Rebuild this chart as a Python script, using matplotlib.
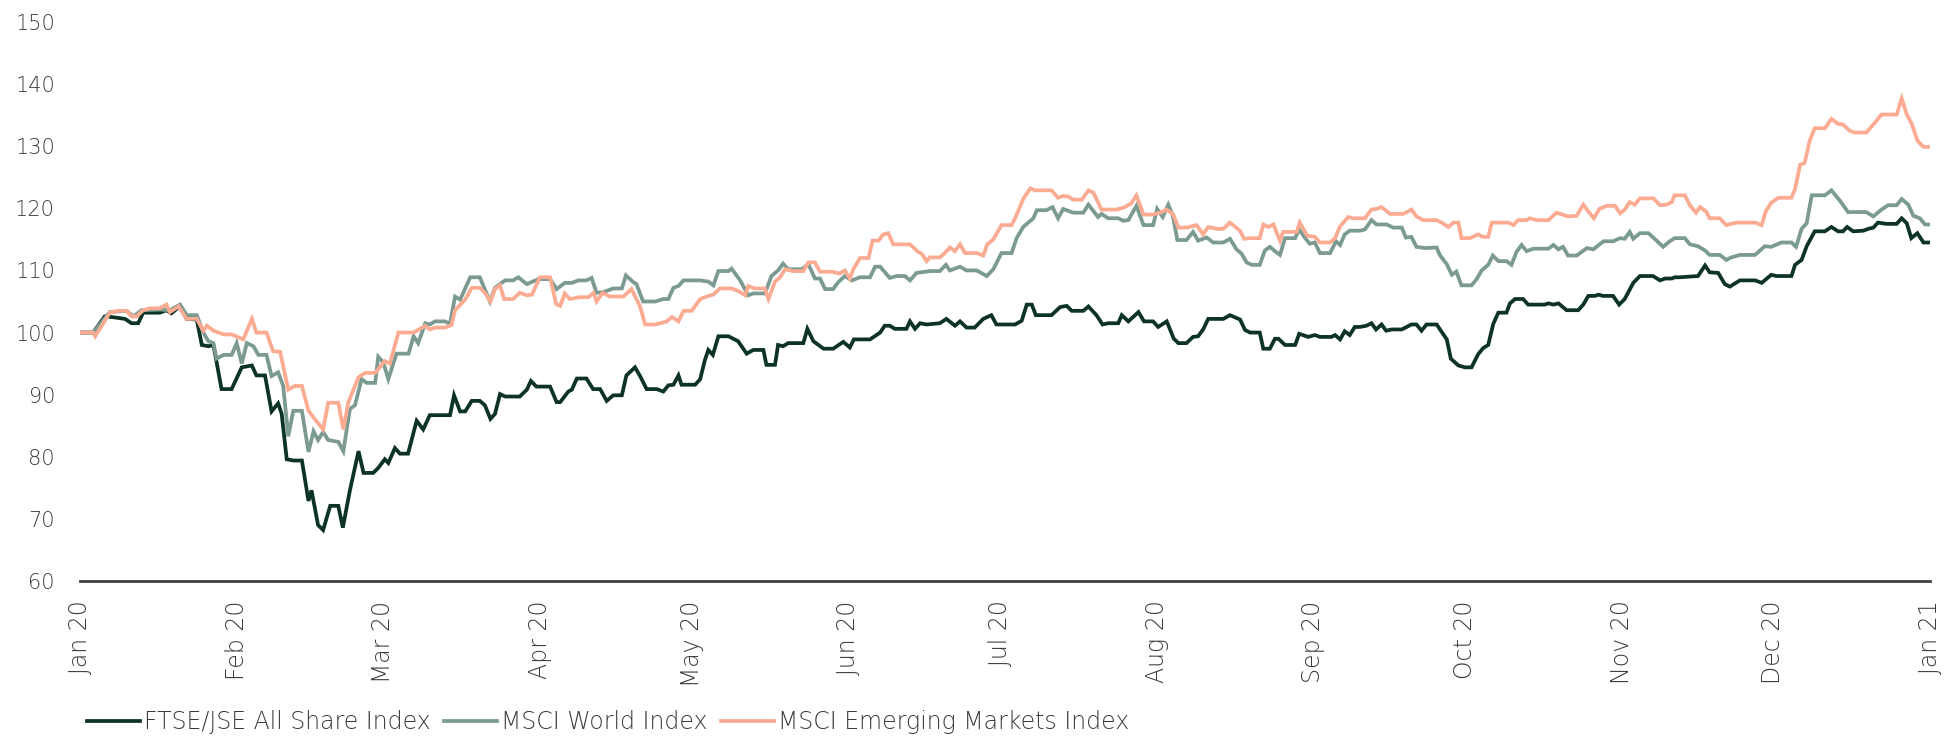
import numpy as np
import pandas as pd
import matplotlib
matplotlib.use("Agg")
import matplotlib.pyplot as plt
import matplotlib.dates as mdates

# index levels (base 100), as (day of 2020, value)
start = pd.Timestamp("2020-01-01")

ftse = [(0.0,100.0),(2.6,100.0),(4.9,102.6),(6.3,102.5),(8.9,102.2),(10.2,101.5),(11.5,101.5),(12.5,103.2),(15.8,103.2),(17.1,103.6),
	(18.1,103.1),(19.8,104.3),(21.1,102.2),(23.1,102.1),(24.1,98.0),(25.4,97.8),(26.4,98.0),(28.0,90.9),(30.0,90.9),
	(32.0,94.4),(34.0,94.7),(34.9,93.1),(36.6,93.1),(37.9,87.3),(39.2,88.6),(39.9,86.9),(40.9,79.6),(42.2,79.4),(43.9,79.4),
	(45.2,72.9),(45.8,74.6),(47.1,69.0),(48.1,68.2),(49.5,72.1),(51.1,72.1),(52.0,68.6),(53.4,74.6),(55.1,80.9),(56.1,77.4),
	(58.0,77.4),(59.0,78.2),(60.3,79.6),(61.0,79.0),(62.3,81.4),(63.3,80.5),(64.9,80.5),(66.6,85.8),(67.9,84.4),(69.2,86.7),
	(73.2,86.7),(74.0,89.9),(75.2,87.3),(76.2,87.3),(77.5,89.0),(79.1,89.0),(80.1,88.3),(81.2,86.1),(82.1,86.9),(83.1,90.1),
	(84.1,89.7),(87.0,89.7),(88.4,90.8),(89.2,92.2),(90.3,91.3),(93.0,91.3),(94.3,88.8),(95.0,88.8),(96.6,90.5),(97.3,90.8),
	(98.3,92.6),(100.2,92.6),(101.5,90.9),(102.9,90.9),(104.2,89.0),(105.5,89.9),(107.2,89.9),(108.1,93.1),(109.8,94.4),
	(110.8,93.0),(112.1,90.9),(114.1,90.9),(115.4,90.5),(116.4,91.5),(117.4,91.6),(118.4,93.1),(119.0,91.6),(121.7,91.6),
	(122.7,92.5),(123.6,95.5),(124.3,97.2),(125.2,96.4),(126.3,99.4),(128.3,99.4),(130.2,98.6),(131.9,96.6),(133.2,97.2),
	(135.2,97.2),(135.8,94.8),(137.5,94.8),(138.1,98.0),(139.1,97.8),(140.1,98.3),(143.1,98.3),(143.9,100.6),(145.1,98.6),
	(147.1,97.4),(149.0,97.4),(151.0,98.5),(152.3,97.6),(153.1,98.9),(156.3,98.9),(158.3,100.0),(159.2,101.1),(160.2,101.1),
	(161.2,100.6),(163.5,100.6),(164.2,101.8),(165.2,100.6),(166.2,101.5),(167.5,101.3),(170.1,101.5),(171.4,102.2),
	(173.1,101.1),(174.1,101.8),(175.4,100.8),(177.0,100.8),(178.7,102.2),(180.3,102.8),(181.3,101.3),(185.0,101.3),
	(186.3,101.9),(187.3,104.5),(188.3,104.5),(189.1,102.8),(192.2,102.8),(193.9,104.1),(195.2,104.3),(196.2,103.5),
	(198.5,103.5),(199.5,104.2),(201.1,102.8),(202.3,101.3),(203.4,101.5),(205.4,101.5),(206.1,102.8),(207.4,101.8),
	(209.4,103.3),(210.5,101.8),(212.3,101.8),(213.3,100.9),(215.0,101.8),(216.4,99.0),(217.3,98.3),(218.9,98.3),
	(220.2,99.3),(221.2,99.4),(222.2,100.5),(223.2,102.2),(226.2,102.2),(227.5,102.8),(229.5,102.1),(230.5,100.4),
	(231.5,100.0),(233.4,100.0),(234.1,97.4),(235.4,97.4),(236.4,99.0),(237.1,99.0),(238.4,98.0),(240.4,98.0),(241.2,99.8),
	(243.0,99.3),(244.3,99.6),(245.3,99.3),(247.6,99.3),(248.3,99.6),(249.3,98.9),(250.2,100.2),(251.2,99.6),(252.2,100.9),
	(253.2,100.9),(254.5,101.1),(255.5,101.5),(256.4,100.5),(257.5,101.3),(258.4,100.3),(259.5,100.5),(261.5,100.5),
	(263.4,101.3),(264.4,101.3),(265.4,100.3),(266.4,101.3),(268.4,101.3),(270.4,98.9),(271.2,95.8),(272.7,94.7),
	(274.0,94.4),(275.3,94.4),(276.6,96.5),(277.6,97.5),(278.6,98.0),(279.6,101.4),(280.6,103.2),(282.2,103.2),(282.9,104.7),
	(283.9,105.4),(285.5,105.4),(286.5,104.5),(289.8,104.5),(290.5,104.7),(291.5,104.5),(292.5,104.7),(294.1,103.6),
	(296.4,103.6),(297.4,104.5),(298.4,105.9),(299.7,105.9),(300.4,106.1),(301.3,105.9),(303.3,105.9),(304.5,104.5),
	(305.6,105.4),(307.3,108.0),(308.6,109.1),(311.2,109.1),(312.6,108.4),(313.6,108.7),(314.9,108.7),(315.5,108.9),
	(316.5,108.9),(320.1,109.1),(321.5,110.8),(322.4,109.7),(324.1,109.6),(325.4,107.8),(326.4,107.4),(328.4,108.4),
	(331.4,108.4),(332.7,108.0),(334.6,109.3),(335.6,109.1),(338.6,109.1),(339.3,110.9),(340.6,111.7),(341.6,113.9),
	(343.2,116.3),(345.2,116.3),(346.5,117.0),(347.8,116.3),(348.8,116.3),(349.6,117.0),(350.8,116.3),(352.8,116.4),
	(353.8,116.7),(354.8,116.9),(355.7,117.7),(357.4,117.5),(359.4,117.5),(360.4,118.4),(361.4,117.6),(362.3,115.2),
	(363.5,116.0),(364.7,114.5),(366.0,114.5)]

world = [(0.0,100.0),(2.6,100.0),(5.9,103.3),(9.2,103.5),(10.6,102.6),(12.2,103.6),(15.8,103.7),(17.8,103.6),(19.8,104.5),
	(21.1,102.8),(23.1,102.8),(24.4,100.0),(25.4,98.6),(26.4,98.3),(27.0,95.8),(28.4,96.4),(30.0,96.4),(31.0,98.3),(32.0,95.0),
	(33.0,98.3),(34.3,97.8),(35.3,96.4),(36.9,96.4),(37.9,93.0),(39.2,93.6),(40.2,91.4),(41.2,83.3),(42.2,87.4),(43.9,87.4),
	(45.2,80.8),(46.2,84.1),(47.1,82.7),(48.1,84.0),(49.1,82.7),(51.1,82.4),(52.1,80.9),(53.4,87.7),(54.4,88.3),(55.7,92.5),
	(56.7,91.9),(58.4,91.9),(59.0,96.1),(60.0,95.2),(61.0,92.5),(62.6,96.6),(65.0,96.6),(66.0,99.4),(66.9,98.3),(68.3,101.5),
	(69.2,101.3),(70.2,101.8),(72.2,101.8),(73.2,101.4),(74.2,105.8),(75.2,105.3),(77.2,108.9),(79.1,108.9),(81.1,105.0),
	(82.1,107.2),(84.1,108.4),(85.7,108.4),(86.7,108.9),(88.4,107.8),(90.7,108.6),(93.0,108.6),(94.3,107.0),(95.9,108.0),
	(97.3,108.0),(98.6,108.4),(100.2,108.4),(101.2,108.8),(102.2,106.4),(103.5,106.5),(105.5,107.1),(107.2,107.1),
	(108.0,109.2),(109.5,108.1),(110.1,107.8),(111.4,105.0),(113.8,105.0),(115.4,105.4),(116.4,105.4),(117.4,107.2),
	(118.4,107.5),(119.4,108.4),(122.7,108.4),(124.3,108.2),(125.3,107.6),(126.3,109.9),(128.3,109.9),(128.9,110.3),
	(130.6,108.4),(132.2,106.0),(133.2,106.3),(135.5,106.3),(136.8,109.1),(138.1,110.0),(139.1,111.1),(140.1,110.2),
	(142.8,110.2),(144.1,111.0),(145.4,108.7),(146.4,108.7),(147.4,107.0),(149.0,107.0),(150.0,108.1),(151.3,109.1),
	(152.7,108.4),(154.3,108.9),(156.3,108.9),(157.3,110.6),(158.3,110.6),(160.2,108.8),(161.6,109.1),(163.2,109.1),
	(164.2,108.4),(165.5,109.6),(168.2,109.9),(170.1,109.9),(171.3,110.9),(172.1,110.0),(174.1,110.6),(175.4,110.0),
	(177.4,110.0),(179.4,109.1),(180.7,110.2),(182.3,112.8),(184.3,112.8),(185.3,115.2),(186.6,117.0),(188.6,118.4),
	(189.3,119.7),(191.2,119.7),(192.4,120.2),(193.5,118.4),(194.5,119.9),(196.5,119.3),(198.5,119.3),(199.5,120.6),
	(201.4,118.6),(202.1,119.1),(203.4,118.4),(205.4,118.4),(206.4,118.0),(207.4,118.1),(209.0,120.4),(210.4,117.3),
	(212.3,117.3),(213.1,119.9),(214.2,118.6),(215.3,120.6),(216.2,118.8),(217.1,114.9),(218.9,114.9),(220.2,116.2),
	(221.2,114.8),(222.9,115.3),(224.2,114.5),(226.2,114.5),(227.5,115.1),(228.8,113.4),(229.8,112.7),(230.8,111.3),
	(231.8,110.9),(233.4,110.9),(234.4,113.2),(235.4,113.8),(236.4,113.1),(237.4,112.5),(238.4,115.2),(240.4,115.2),
	(241.2,116.6),(242.3,115.3),(243.3,114.3),(244.3,114.5),(245.3,112.8),(247.3,112.8),(248.5,114.7),(249.3,114.1),
	(250.2,115.8),(251.2,116.4),(253.2,116.4),(254.2,116.6),(255.5,118.1),(256.5,117.4),(258.5,117.4),(259.8,116.9),
	(261.5,116.9),(262.3,115.3),(263.4,115.4),(264.4,113.8),(266.1,113.6),(268.4,113.7),(269.0,112.5),(270.4,111.0),
	(271.4,109.3),(272.3,109.8),(273.3,107.6),(275.3,107.6),(276.3,108.6),(277.3,110.0),(278.6,110.9),(279.5,112.4),
	(280.6,111.5),(282.2,111.5),(283.2,110.9),(284.2,113.0),(285.2,114.1),(286.2,113.1),(287.5,113.5),(290.5,113.5),
	(291.5,114.1),(292.5,113.4),(293.4,113.8),(294.4,112.4),(296.1,112.4),(298.1,113.6),(299.4,113.4),(301.4,114.7),
	(303.3,114.7),(304.7,115.2),(305.6,115.1),(306.6,116.2),(307.3,115.1),(308.6,116.0),(310.3,116.0),(311.9,114.8),
	(313.2,113.8),(314.5,114.7),(315.5,115.2),(317.5,115.2),(318.5,114.2),(320.1,113.9),(321.5,113.2),(322.4,112.5),
	(324.4,112.5),(325.7,111.7),(326.7,112.1),(328.4,112.5),(331.4,112.5),(333.3,113.9),(334.6,113.8),(336.6,114.5),
	(338.6,114.5),(339.5,113.8),(340.6,116.7),(341.6,117.6),(342.6,122.1),(345.2,122.1),(346.5,122.9),(348.2,121.2),
	(349.8,119.4),(353.4,119.4),(354.8,118.7),(356.4,119.8),(357.7,120.5),(359.4,120.5),(360.4,121.5),(361.7,120.6),
	(362.7,118.8),(364.0,118.4),(365.0,117.4),(366.0,117.4)]

em = [(0.0,100.0),(2.6,100.0),(3.0,99.4),(5.9,103.2),(7.6,103.5),(9.2,103.5),(10.2,102.6),(11.2,102.6),(12.5,103.6),
	(13.8,103.9),(15.8,103.9),(17.1,104.5),(17.8,103.3),(19.5,104.2),(21.1,102.2),(23.1,102.2),(24.4,100.3),(25.1,101.1),
	(26.4,100.3),(28.4,99.7),(30.0,99.7),(32.3,98.9),(34.0,102.2),(34.9,100.0),(36.9,100.0),(38.2,97.0),(39.6,96.9),
	(41.2,90.8),(42.5,91.4),(43.9,91.4),(45.2,87.4),(46.5,86.0),(48.1,84.4),(49.1,88.7),(51.1,88.7),(52.1,84.4),(53.1,88.8),
	(54.1,90.8),(55.1,92.8),(56.4,93.5),(58.4,93.5),(60.3,95.4),(61.3,95.0),(63.0,100.0),(66.0,100.0),(68.3,101.1),
	(69.2,100.5),(70.2,100.8),(72.2,100.8),(73.5,101.2),(74.2,103.6),(76.2,105.3),(77.5,107.2),(79.1,107.2),(80.1,106.4),
	(81.2,105.0),(82.1,107.0),(83.1,107.6),(83.9,105.4),(85.7,105.4),(87.0,106.4),(88.4,106.0),(89.4,106.1),(91.0,108.9),
	(93.0,108.9),(94.2,104.6),(95.0,104.3),(95.9,106.3),(96.9,105.4),(98.9,105.7),(100.6,105.7),(101.6,106.4),(102.2,105.0),
	(103.4,106.4),(104.8,105.8),(107.5,105.8),(109.1,107.0),(110.8,104.2),(111.8,101.3),(113.8,101.3),(116.1,101.8),
	(117.1,102.5),(118.4,101.8),(119.4,103.5),(121.0,103.5),(122.7,105.4),(124.3,105.9),(125.3,106.1),(126.6,107.1),
	(128.9,107.1),(130.2,106.7),(131.6,106.0),(132.2,107.5),(133.5,107.1),(135.5,107.1),(136.2,105.4),(137.5,108.2),
	(138.5,108.9),(139.5,110.2),(141.1,109.9),(143.1,109.9),(144.1,111.3),(145.4,111.3),(146.4,109.8),(148.7,109.8),
	(150.3,109.5),(151.3,110.0),(152.3,108.7),(153.0,110.2),(154.3,112.0),(156.0,112.0),(156.8,114.8),(158.0,114.8),
	(158.9,115.8),(159.9,116.0),(160.9,114.2),(164.2,114.2),(165.8,113.0),(166.5,112.7),(167.5,111.5),(168.1,112.1),
	(170.1,112.1),(171.1,112.8),(172.1,113.7),(173.1,113.1),(174.1,114.2),(175.1,112.8),(177.4,112.8),(178.7,112.4),
	(179.5,114.2),(180.7,115.0),(182.3,117.3),(184.3,117.3),(185.0,118.4),(186.6,121.5),(188.0,123.2),(188.9,122.9),
	(192.2,122.9),(193.5,121.7),(194.5,122.0),(195.5,121.9),(196.5,121.4),(198.2,121.4),(199.5,122.9),(200.5,122.5),
	(202.1,119.8),(205.1,119.8),(206.7,120.2),(208.0,120.8),(209.0,122.1),(210.4,119.0),(212.3,119.0),(213.7,119.3),
	(215.0,119.8),(216.3,119.0),(217.3,116.9),(218.9,116.9),(220.9,117.3),(222.2,115.8),(223.2,117.0),(224.9,116.7),
	(226.2,116.7),(227.5,117.7),(229.5,116.4),(230.3,115.1),(231.5,115.2),(233.4,115.2),(234.1,117.4),(235.1,117.0),
	(236.1,117.4),(237.4,114.8),(238.0,116.2),(240.7,116.2),(241.3,117.7),(242.8,115.6),(244.3,115.4),(245.3,114.5),
	(247.3,114.5),(248.3,115.2),(249.3,117.1),(250.9,118.6),(251.9,118.4),(254.2,118.4),(255.5,119.8),(256.5,119.9),
	(257.5,120.2),(259.2,119.1),(261.8,119.1),(263.4,119.8),(264.4,118.7),(265.7,118.1),(268.4,118.1),(269.4,117.7),
	(270.7,117.0),(271.7,117.7),(272.7,117.7),(273.3,115.2),(275.0,115.2),(276.6,115.8),(277.6,115.4),(278.6,115.4),
	(279.3,117.7),(282.6,117.7),(283.6,117.3),(284.5,118.1),(286.2,118.1),(286.8,118.4),(288.2,118.1),(290.5,118.1),
	(292.1,119.3),(294.4,118.7),(296.1,118.8),(297.4,120.6),(298.4,119.5),(299.5,118.4),(300.6,119.9),(302.0,120.4),
	(303.7,120.4),(304.7,119.2),(305.6,119.8),(306.6,121.0),(307.6,120.6),(308.6,121.6),(311.3,121.6),(312.6,120.5),
	(313.9,120.6),(314.9,121.0),(315.5,122.1),(317.5,122.1),(318.5,120.5),(319.7,119.3),(320.5,120.2),(321.7,119.5),
	(322.4,118.4),(324.4,118.4),(325.7,117.3),(327.7,117.7),(331.4,117.7),(332.7,117.3),(333.5,119.5),(334.6,120.9),
	(336.0,121.7),(338.6,121.7),(339.3,123.1),(340.3,127.0),(341.2,127.3),(342.2,130.9),(343.2,132.9),(345.2,132.9),
	(346.5,134.4),(347.8,133.6),(348.8,133.5),(350.1,132.5),(351.1,132.2),(353.4,132.2),(354.8,133.5),(356.4,135.1),
	(359.4,135.1),(360.4,137.7),(361.4,135.1),(362.4,133.6),(363.5,130.9),(364.7,129.9),(366.0,129.9)]

labels = ["FTSE/JSE All Share Index", "MSCI World Index", "MSCI Emerging Markets Index"]
line_colors = ["#0c3325", "#7b9a91", "#fbab92"]

plt.rcParams['font.family'] = ['DejaVu Sans']
plt.rcParams['font.weight'] = 250
TXT = "#3a3a3a"


def to_series(pairs):
	days = np.array([p[0] for p in pairs])
	vals = np.array([p[1] for p in pairs])
	return start + pd.to_timedelta(days, unit="D"), vals


W, H = 1959, 736
fig = plt.figure(figsize=(W / 100, H / 100), dpi=100)
ax = fig.add_axes([80 / W, 1 - 581 / H, (1930 - 80) / W, (581 - 22) / H])

handles = []
for pairs, lab, col in zip([ftse, world, em], labels, line_colors):
	x, y = to_series(pairs)
	h, = ax.plot(x, y, color=col, lw=2.7, label=lab, solid_joinstyle='miter')
	handles.append(h)

ax.set_ylim(60, 150)
ax.set_yticks(range(60, 151, 10))
ax.set_xlim(start, pd.Timestamp("2021-01-01"))
ax.xaxis.set_major_locator(mdates.MonthLocator())
ax.xaxis.set_major_formatter(mdates.DateFormatter("%b %y"))

for s in ['top', 'right', 'left']:
	ax.spines[s].set_visible(False)
ax.spines['bottom'].set_color("#404040")
ax.spines['bottom'].set_linewidth(2)

ax.tick_params(axis='y', length=0, pad=18, labelsize=15, labelcolor=TXT)
ax.tick_params(axis='x', length=0, pad=14, labelsize=17, labelcolor=TXT, labelrotation=90)

fig.legend(handles, labels, loc='center left', bbox_to_anchor=(87 / W, 1 - 722 / H),
		   ncol=3, frameon=False, fontsize=17, handlelength=2.25, handletextpad=0.17,
		   columnspacing=0.55, borderpad=0, borderaxespad=0, labelcolor=TXT)

fig.savefig("out.png", dpi=100)
